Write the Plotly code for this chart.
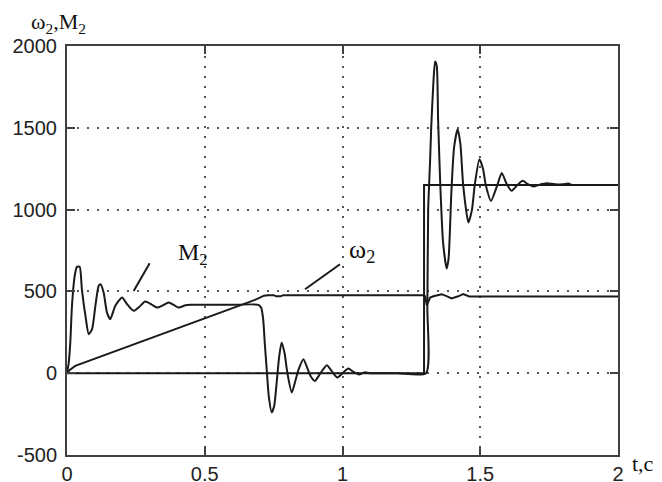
import plotly.graph_objects as go

# ---- data ----
t_m2 = [0, 0.006, 0.012, 0.018, 0.028, 0.036, 0.046, 0.054, 0.067, 0.079,
        0.091, 0.103, 0.115, 0.122, 0.133, 0.145, 0.157, 0.175, 0.200, 0.218,
        0.242, 0.262, 0.284, 0.305, 0.327, 0.348, 0.369, 0.387, 0.405, 0.43,
        0.45, 0.60, 0.695, 0.705, 0.712, 0.718, 0.725, 0.733, 0.743, 0.752,
        0.762, 0.770, 0.779, 0.790, 0.800, 0.816, 0.830, 0.840, 0.858, 0.875,
        0.885, 0.900, 0.920, 0.943, 0.962, 0.981, 1.000, 1.021, 1.040, 1.060,
        1.080, 1.100, 1.200, 1.303, 1.308, 1.311, 1.318, 1.322, 1.330, 1.336,
        1.342, 1.347, 1.355, 1.365, 1.378, 1.385, 1.395, 1.405, 1.418, 1.428,
        1.438, 1.457, 1.470, 1.480, 1.497, 1.510, 1.520, 1.539, 1.560, 1.578,
        1.595, 1.614, 1.635, 1.654, 1.673, 1.693, 1.715, 1.741, 1.770, 1.800,
        1.820, 1.830]
m2 = [0, 60, 190, 411, 595, 650, 650, 513, 350, 238,
      269, 411, 534, 544, 493, 371, 330, 411, 463, 422,
      381, 405, 438, 422, 401, 415, 432, 418, 401, 415,
      418, 418, 418, 400, 330, 180, 20, -150, -240, -200,
      -40, 100, 188, 120, 0, -118, -40, 20, 86, 20,
      -20, -47, 0, 49, 10, -26, 0, 29, 8, -8,
      5, 0, 0, 0, 400, 1000, 1300, 1500, 1780, 1905,
      1880, 1550, 1150, 800, 640, 700, 1100, 1380, 1491, 1400,
      1150, 921, 1000, 1150, 1308, 1250, 1150, 1053, 1140, 1224,
      1160, 1115, 1150, 1176, 1155, 1141, 1152, 1161, 1155, 1155,
      1160, 1152]

t_w2 = [0, 0.01, 0.03, 0.10, 0.20, 0.30, 0.40, 0.50, 0.60, 0.65, 0.68, 0.70,
        0.715, 0.73, 0.75, 0.76, 0.775, 0.785, 1.00, 1.295, 1.300, 1.306,
        1.312, 1.318, 1.33, 1.345, 1.36, 1.38, 1.396, 1.42, 1.438, 1.46, 2.0]
w2 = [0, 20, 45, 88, 150, 212, 273, 335, 397, 428, 447, 462,
      474, 477, 477, 470, 470, 477, 477, 476, 470, 415,
      440, 462, 470, 478, 483, 470, 457, 470, 483, 469, 469]

t_load = [0, 1.296, 1.296, 2.0]
m_load = [0, 0, 1151, 1151]

x_ticks = [0, 0.5, 1, 1.5, 2]
x_labels = ["0", "0.5", "1", "1.5", "2"]
y_ticks = [-500, 0, 500, 1000, 1500, 2000]
y_labels = ["-500", "0", "500", "1000", "1500", "2000"]

LINE = "#1a1a1a"
AX = "#404040"

fig = go.Figure()
fig.add_trace(go.Scatter(x=t_load, y=m_load, mode="lines",
                         line=dict(color=LINE, width=2), hoverinfo="skip"))
fig.add_trace(go.Scatter(x=t_w2, y=w2, mode="lines",
                         line=dict(color=LINE, width=2), hoverinfo="skip"))
fig.add_trace(go.Scatter(x=t_m2, y=m2, mode="lines",
                         line=dict(color=LINE, width=2, shape="spline", smoothing=0.6),
                         hoverinfo="skip"))

axis_common = dict(
    showline=True, linecolor=AX, linewidth=2, mirror="ticks",
    ticks="inside", ticklen=8, tickwidth=2, tickcolor=AX,
    showgrid=True, gridcolor="#555", gridwidth=2, griddash="2px,8px",
    zeroline=False, automargin=False,
    tickfont=dict(family="Liberation Sans", size=20, color="#222"),
)

fig.update_xaxes(range=[0, 2], tickvals=x_ticks, ticktext=x_labels,
                 **axis_common)
fig.update_yaxes(range=[-500, 2000], tickvals=y_ticks, ticktext=y_labels,
                 ticklabelstandoff=4, **axis_common)

serif = "Liberation Serif"
fig.add_annotation(text="ω<sub>2</sub>,M<sub>2</sub>", xref="paper", yref="paper",
                   x=(29 - 67) / 551, y=(455.5 - 23) / 409, showarrow=False,
                   xanchor="left", yanchor="middle",
                   font=dict(family=serif, size=22, color="#111"))
fig.add_annotation(text="t,c", xref="paper", yref="paper",
                   x=(630 - 67) / 551, y=(455.5 - 464) / 409, showarrow=False,
                   xanchor="left", yanchor="middle",
                   font=dict(family=serif, size=22, color="#111"))
fig.add_annotation(text="M<sub>2</sub>", x=0.457, y=728, showarrow=False,
                   xanchor="center", yanchor="middle",
                   font=dict(family=serif, size=24, color="#111"))
fig.add_annotation(text="ω<sub>2</sub>", x=1.071, y=746, showarrow=False,
                   xanchor="center", yanchor="middle",
                   font=dict(family=serif, size=26, color="#111"))

# leader lines
fig.add_shape(type="line", x0=0.242, y0=503, x1=0.300, y1=672,
              line=dict(color=LINE, width=2))
fig.add_shape(type="line", x0=0.864, y0=513, x1=0.991, y1=666,
              line=dict(color=LINE, width=2))

fig.update_layout(
    width=662, height=482,
    margin=dict(l=67, r=44, t=46, b=27, pad=0),
    paper_bgcolor="white", plot_bgcolor="white",
    showlegend=False,
)

fig.write_html("out.html")
